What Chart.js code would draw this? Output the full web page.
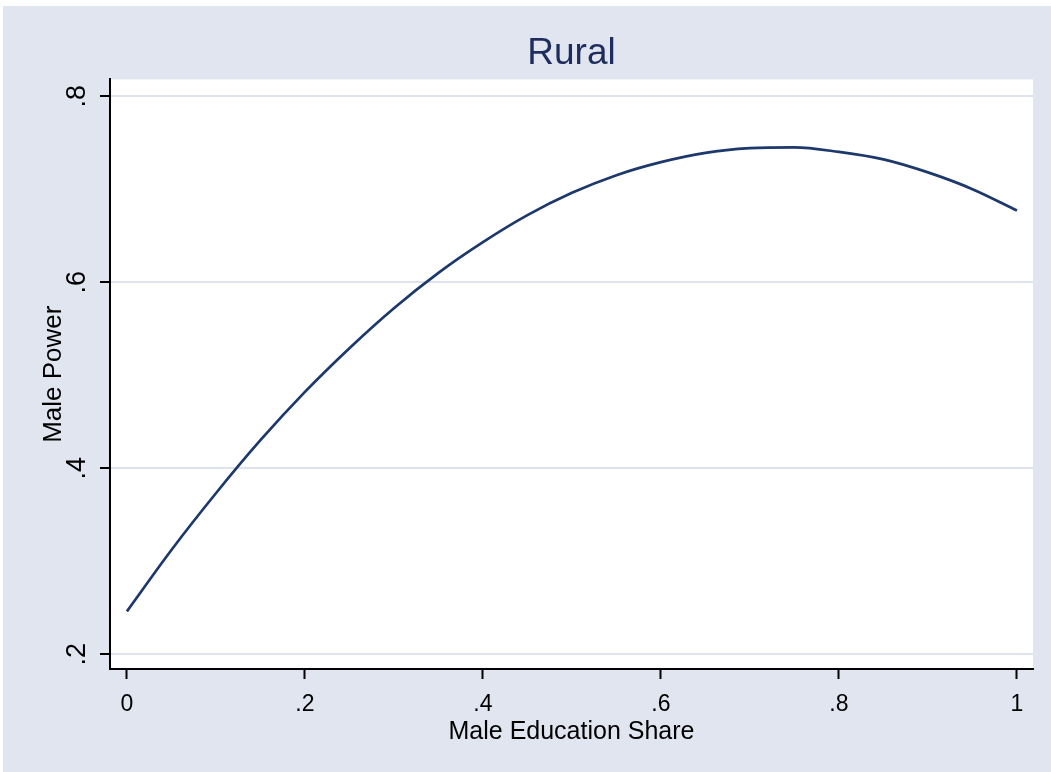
<!DOCTYPE html>
<html lang="en">
<head>
    <meta charset="UTF-8">
    <title>Rural - Male Power</title>
    <script src="https://cdn.jsdelivr.net/npm/chart.js"></script>
    <style>
        body {
            margin: 0;
            background: #ffffff;
        }
        .frame {
            position: absolute;
            left: 3px;
            top: 6px;
            width: 1048px;
            height: 766px;
            background: #e1e5f0;
        }
    </style>
</head>
<body>
    <div class="frame">
        <canvas id="grafico"></canvas>
    </div>

    <script>
        // values
        const eduShare = [0, 0.05, 0.1, 0.15, 0.2, 0.25, 0.3, 0.35, 0.4, 0.45, 0.5,
                          0.55, 0.6, 0.65, 0.7, 0.75, 0.8, 0.85, 0.9, 0.95, 1];
        const malePower = [0.246, 0.312, 0.373, 0.430, 0.482, 0.529, 0.572, 0.610, 0.643, 0.672, 0.696,
                           0.715, 0.729, 0.739, 0.744, 0.745, 0.740, 0.732, 0.718, 0.700, 0.677];
        const xTicks = [0, 0.2, 0.4, 0.6, 0.8, 1];
        const yTicks = [0.2, 0.4, 0.6, 0.8];

        const fmt = v => (v === 0 || v === 1) ? String(v) : String(v).replace(/^0/, '');
        const fontFam = "'Liberation Sans', Arial, sans-serif";

        // white plot region
        const plotBg = {
            id: 'plotBg',
            beforeDraw(chart) {
                const a = chart.chartArea;
                const ctx = chart.ctx;
                ctx.save();
                ctx.fillStyle = '#ffffff';
                ctx.fillRect(a.left, a.top, a.right - a.left, a.bottom - a.top);
                ctx.restore();
            }
        };

        const ctx = document.getElementById('grafico').getContext('2d');
        new Chart(ctx, {
            type: 'line',
            data: {
                datasets: [{
                    data: eduShare.map((x, i) => ({ x: x, y: malePower[i] })),
                    borderColor: '#1d386b',
                    borderWidth: 2.7,
                    pointRadius: 0,
                    fill: false,
                    cubicInterpolationMode: 'monotone'
                }]
            },
            options: {
                responsive: true,
                maintainAspectRatio: false,
                animation: false,
                layout: { padding: { left: 0, top: 0, right: 18, bottom: 0 } },
                plugins: {
                    legend: { display: false },
                    tooltip: { enabled: false },
                    title: {
                        display: true,
                        text: 'Rural',
                        fullSize: false,
                        color: '#1e2d5c',
                        font: { family: fontFam, size: 37, weight: 'normal' },
                        padding: { top: 26, bottom: 3 }
                    }
                },
                scales: {
                    x: {
                        type: 'linear',
                        min: -0.019,
                        max: 1.018,
                        afterBuildTicks: s => { s.ticks = xTicks.map(v => ({ value: v })); },
                        afterFit: s => { s.height = 103; },
                        border: { color: '#000000', width: 2 },
                        grid: {
                            drawOnChartArea: false,
                            drawTicks: true,
                            tickLength: 10,
                            tickColor: '#000000',
                            tickWidth: 2
                        },
                        ticks: {
                            color: '#000000',
                            font: { family: fontFam, size: 23 },
                            padding: 12,
                            maxRotation: 0,
                            callback: v => fmt(v)
                        },
                        title: {
                            display: true,
                            text: 'Male Education Share',
                            color: '#000000',
                            font: { family: fontFam, size: 25 },
                            padding: { top: 0, bottom: 25 }
                        }
                    },
                    y: {
                        type: 'linear',
                        min: 0.184,
                        max: 0.818,
                        afterBuildTicks: s => { s.ticks = yTicks.map(v => ({ value: v })); },
                        afterFit: s => { s.width = 107; },
                        border: { color: '#000000', width: 2 },
                        grid: {
                            color: '#dde2ee',
                            lineWidth: 2,
                            drawTicks: true,
                            tickLength: 10,
                            tickColor: '#000000',
                            tickWidth: 2
                        },
                        ticks: {
                            color: '#000000',
                            font: { family: fontFam, size: 27 },
                            padding: 11,
                            minRotation: 90,
                            maxRotation: 90,
                            crossAlign: 'center',
                            callback: v => fmt(v)
                        },
                        title: {
                            display: true,
                            text: 'Male Power',
                            color: '#000000',
                            font: { family: fontFam, size: 26 },
                            padding: { top: 35, bottom: 0 }
                        }
                    }
                }
            },
            plugins: [plotBg]
        });
    </script>
</body>
</html>
